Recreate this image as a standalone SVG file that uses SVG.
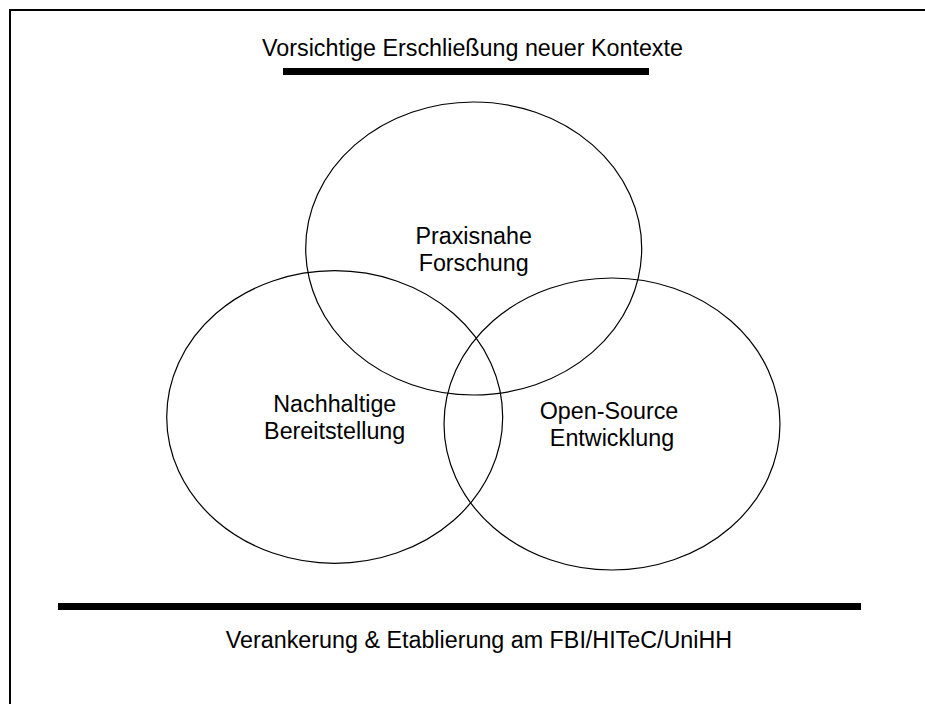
<svg xmlns="http://www.w3.org/2000/svg" width="925" height="704" viewBox="0 0 925 704">
  <style>
    .lbl { font-family: "Liberation Sans", Arial, sans-serif; font-size: 23.3px; fill: #000; text-anchor: middle; }
    .ring { fill: none; stroke: #000; stroke-width: 1.2; }
    .bar { fill: #000; }
  </style>
  <rect x="0" y="0" width="925" height="704" fill="#fff"/>
  <g id="frame">
    <path d="M10,704 V10 H925" fill="none" stroke="#000" stroke-width="2"/>
  </g>
  <g id="top-context">
    <text class="lbl" x="472.5" y="56">Vorsichtige Erschließung neuer Kontexte</text>
    <rect class="bar" x="283" y="68" width="366" height="7"/>
  </g>
  <g id="praxisnahe-forschung">
    <ellipse class="ring" cx="473.7" cy="248.5" rx="168" ry="146.5"/>
    <text class="lbl" x="473.7" y="244">Praxisnahe</text>
    <text class="lbl" x="473.7" y="271">Forschung</text>
  </g>
  <g id="nachhaltige-bereitstellung">
    <ellipse class="ring" cx="334.7" cy="417" rx="168" ry="146.3"/>
    <text class="lbl" x="334.8" y="412.3">Nachhaltige</text>
    <text class="lbl" x="334.7" y="439.3">Bereitstellung</text>
  </g>
  <g id="open-source-entwicklung">
    <ellipse class="ring" cx="612" cy="424" rx="168" ry="146"/>
    <text class="lbl" x="609" y="418.5">Open-Source</text>
    <text class="lbl" x="612" y="446">Entwicklung</text>
  </g>
  <g id="bottom-anchor">
    <rect class="bar" x="58" y="603" width="803" height="7"/>
    <text class="lbl" x="479" y="648">Verankerung &amp; Etablierung am FBI/HITeC/UniHH</text>
  </g>
  <g id="connectors"></g>
</svg>
